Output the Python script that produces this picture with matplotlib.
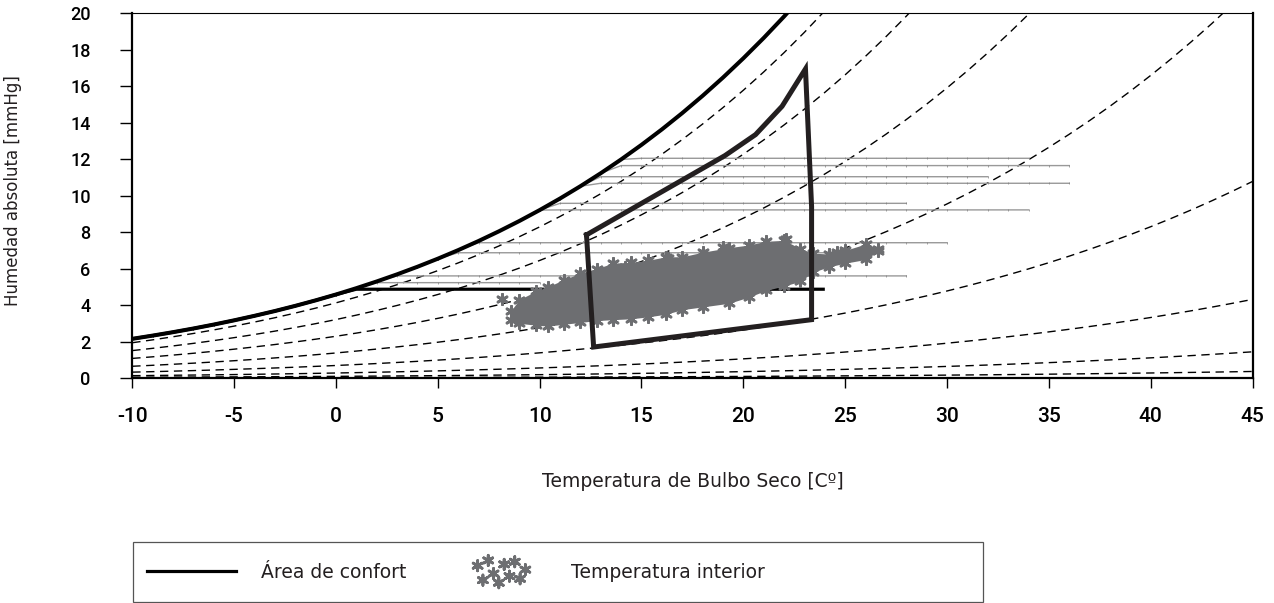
import numpy as np
import matplotlib.pyplot as plt
from matplotlib.lines import Line2D
from matplotlib.patches import Rectangle
from matplotlib.legend_handler import HandlerPathCollection

plt.rcParams['font.family'] = ['DejaVu Sans']
plt.rcParams['axes.unicode_minus'] = False

# saturation vapour pressure [mmHg], one value per degree C from -10 to 45
temps = np.arange(-10, 46)
p_sat = np.array([
    2.149, 2.326, 2.514, 2.715, 2.931, 3.163, 3.410, 3.673, 3.956, 4.258,
    4.579, 4.926, 5.294, 5.685, 6.101, 6.543, 7.013, 7.513, 8.045, 8.609,
    9.209, 9.844, 10.518, 11.231, 11.987, 12.788, 13.634, 14.530, 15.477, 16.477,
    17.535, 18.650, 19.827, 21.068, 22.377, 23.756, 25.209, 26.739, 28.349, 30.043,
    31.824, 33.695, 35.663, 37.729, 39.898, 42.175, 44.563, 47.067, 49.692, 52.442,
    55.324, 58.340, 61.500, 64.800, 68.260, 71.880,
])

# relative humidity of the dashed curves
rh_levels = [0.9, 0.7, 0.5, 0.3, 0.15, 0.06, 0.02, 0.005]

# gray constant-humidity series: level [mmHg] and last temperature [C]
range_levels = [12.05, 11.65, 11.04, 10.68, 9.58, 9.22, 7.42, 6.87, 5.60, 5.23]
range_ends = [34, 36, 32, 36, 28, 34, 30, 26, 28, 10]

# black constant-humidity line
base_level = 4.87
base_end = 24

# comfort zone outline (temperature, humidity)
comfort_t = [12.30, 19.10, 20.60, 21.90, 23.05, 23.35, 23.35, 12.65, 12.30]
comfort_w = [7.85, 12.20, 13.35, 14.90, 16.95, 9.40, 3.20, 1.70, 7.85]

# indoor readings: envelope of the cloud plus a few stray points
cloud_t = [8.6, 9.0, 9.8, 10.4, 11.2, 12.0, 12.8, 13.6, 14.5, 15.3, 16.2, 17.0,
           18.0, 19.3, 20.3, 21.1, 22.0, 22.8, 23.4, 24.2, 25.0, 26.0, 26.6]
cloud_hi = [3.7, 4.3, 4.75, 5.0, 5.4, 5.75, 6.0, 6.3, 6.35, 6.45, 6.65, 6.65,
            6.9, 7.15, 7.3, 7.5, 7.55, 7.1, 6.85, 6.8, 7.0, 7.35, 7.1]
cloud_lo = [3.2, 3.0, 2.9, 2.85, 2.95, 3.05, 3.15, 3.2, 3.25, 3.35, 3.5, 3.75,
            3.9, 4.1, 4.45, 4.8, 5.05, 5.3, 5.8, 6.1, 6.3, 6.5, 6.95]
stray_t = [8.13, 16.3, 22.1, 19.0, 14.2, 24.6]
stray_w = [4.32, 6.6, 7.6, 7.2, 6.1, 6.9]

GRAY = '#6d6e71'
DARK = '#231f20'
TICK_FONT = ['Roboto', 'DejaVu Sans']

fig = plt.figure(figsize=(12.74, 6.03), dpi=100)
ax = fig.add_axes([0.1038, 0.3731, 0.8794, 0.6048])

for rh in rh_levels:
    ax.plot(temps, rh * p_sat, color='black', lw=1.0, dashes=(6, 4), zorder=2)

for level, end in zip(range_levels, range_ends):
    sel = temps <= end
    ax.plot(temps[sel], np.minimum(level, p_sat[sel]), color='#999999', lw=1.0,
            marker='|', ms=2, mew=0.5, mec='#808080', zorder=3)

sel = temps <= base_end
ax.plot(temps[sel], np.minimum(base_level, p_sat[sel]), color='black', lw=2.3,
        solid_capstyle='butt', zorder=4)

ax.fill_between(cloud_t, cloud_lo, cloud_hi, color=GRAY, lw=0, zorder=5)
edge_t = cloud_t + cloud_t + stray_t
edge_w = cloud_hi + cloud_lo + stray_w
cloud = ax.scatter(edge_t, edge_w, s=55, marker=(6, 2, 0), color=GRAY,
                   linewidths=2.0, zorder=5)

ax.plot(comfort_t, comfort_w, color=DARK, lw=3.6, solid_joinstyle='miter', zorder=6)

ax.plot(temps, p_sat, color='black', lw=2.9, zorder=7)

ax.set_xlim(-10, 45)
ax.set_ylim(0, 20)
ax.set_xticks(range(-10, 46, 5))
ax.set_yticks(range(0, 21, 2))
ax.tick_params(axis='x', direction='out', length=7, width=1, pad=14, labelsize=15)
ax.tick_params(axis='y', direction='out', length=9, width=1, pad=21, labelsize=13)
for lab in ax.get_xticklabels() + ax.get_yticklabels():
    lab.set_fontweight('medium')
    lab.set_family(TICK_FONT)

for side in ['left', 'bottom', 'right']:
    ax.spines[side].set_linewidth(1.6)
ax.spines['top'].set_linewidth(0.8)

ax.set_xlabel('Temperatura de Bulbo Seco [Cº]', fontsize=13.5, color=DARK, va='center')
ax.xaxis.set_label_coords(0.5, -0.285)
ax.set_ylabel('Humedad absoluta [mmHg]', fontsize=12, color=DARK, va='center')
ax.yaxis.set_label_coords(-0.106, 0.515)

# legend box below the chart
fig.patches.append(Rectangle((133 / 1274, 1 / 603), 850 / 1274, 60 / 603,
                             transform=fig.transFigure, fill=False,
                             edgecolor='#555555', lw=0.9))
line_handle = Line2D([], [], color='black', lw=2.3)
fs = 13.5
em = fs * 100 / 72
fig.legend(handles=[line_handle, cloud], labels=['Área de confort', 'Temperatura interior'],
           loc='center left', bbox_to_anchor=(147 / 1274, 1 - 572 / 603), ncol=2,
           frameon=False, fontsize=fs, labelcolor=DARK, handlelength=89 / em,
           handletextpad=25 / em, columnspacing=2.7, borderpad=0, borderaxespad=0,
           scatterpoints=10,
           scatteryoffsets=[0.9, -0.2, 1.3, 0.3, -0.4, 1.0, 0.1, 1.2, -0.1, 0.6],
           handler_map={cloud: HandlerPathCollection(marker_pad=1.1)})

fig.savefig('out.png', dpi=100)
